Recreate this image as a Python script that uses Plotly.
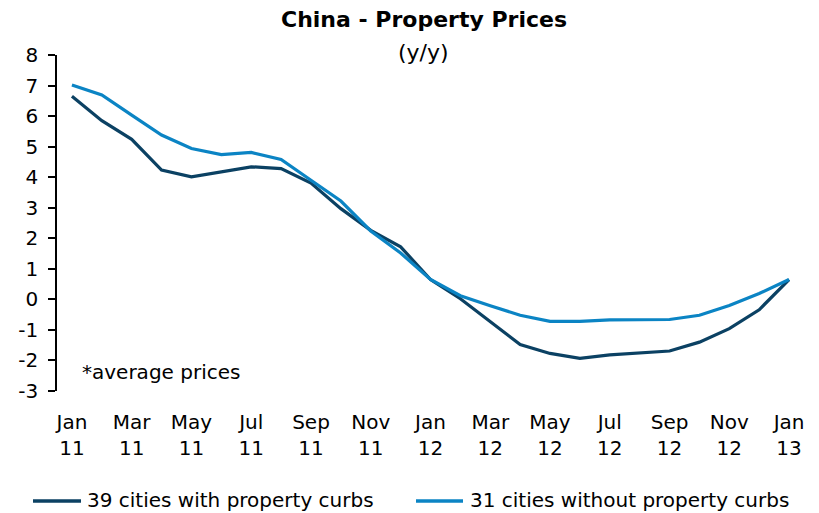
import plotly.graph_objects as go

# ---------------- data ----------------
months = ["Jan 11", "Feb 11", "Mar 11", "Apr 11", "May 11", "Jun 11", "Jul 11",
          "Aug 11", "Sep 11", "Oct 11", "Nov 11", "Dec 11", "Jan 12", "Feb 12",
          "Mar 12", "Apr 12", "May 12", "Jun 12", "Jul 12", "Aug 12", "Sep 12",
          "Oct 12", "Nov 12", "Dec 12", "Jan 13"]
with_curbs = [6.65, 5.85, 5.24, 4.23, 4.01, 4.17, 4.34, 4.28, 3.81, 2.97, 2.26, 1.72,
              0.65, 0.02, -0.72, -1.48, -1.77, -1.93, -1.82, -1.76, -1.69, -1.40,
              -0.96, -0.34, 0.65]
without_curbs = [7.02, 6.69, 6.03, 5.38, 4.94, 4.74, 4.81, 4.58, 3.90, 3.22, 2.24, 1.52,
                 0.65, 0.12, -0.21, -0.52, -0.72, -0.72, -0.67, -0.67, -0.66, -0.52,
                 -0.20, 0.19, 0.65]
tick_labels = ["Jan<br>11", "Mar<br>11", "May<br>11", "Jul<br>11", "Sep<br>11",
               "Nov<br>11", "Jan<br>12", "Mar<br>12", "May<br>12", "Jul<br>12",
               "Sep<br>12", "Nov<br>12", "Jan<br>13"]
y_ticks = [-3, -2, -1, 0, 1, 2, 3, 4, 5, 6, 7, 8]
y_tick_text = ["-3", "-2", "-1", "0", "1", "2", "3", "4", "5", "6", "7", "8"]
series_names = ["39 cities with property curbs", "31 cities without property curbs"]

# ---------------- styling ----------------
DARK = "#0B4163"
LIGHT = "#0B84C4"
FONT = "DejaVu Sans"
W, H = 819, 513
L, R, T, B = 57, 15, 55, 122
PW, PH = W - L - R, H - T - B

def px_x(px):
    return (px - L) / PW

def px_y(py):
    return (H - B - py) / PH

pos = list(range(len(months)))
ymin, ymax = y_ticks[0], y_ticks[-1]

fig = go.Figure()
fig.add_trace(go.Scatter(x=pos, y=with_curbs, mode="lines", name=series_names[0],
                         line=dict(color=DARK, width=3.2), showlegend=False))
fig.add_trace(go.Scatter(x=pos, y=without_curbs, mode="lines", name=series_names[1],
                         line=dict(color=LIGHT, width=3.2), showlegend=False))

xr = [-0.5, len(months) - 0.5]
label_pos = pos[::2]
boundary_pos = [p - 0.5 for p in pos[::2]]

fig.update_layout(
    width=W, height=H,
    margin=dict(l=L, r=R, t=T, b=B),
    paper_bgcolor="white", plot_bgcolor="white",
    font=dict(family=FONT, size=20, color="black"),
    xaxis=dict(range=xr, tickvals=label_pos, ticktext=tick_labels,
               showline=False, showgrid=False, zeroline=False, ticks="",
               ticklabelstandoff=17, tickfont=dict(size=20)),
    xaxis2=dict(range=xr, overlaying="x", anchor="free",
                position=(0 - ymin) / (ymax - ymin),
                tickvals=boundary_pos, ticks="outside", ticklen=6, tickwidth=1.5,
                tickcolor="black", showline=True, linecolor="black", linewidth=1.5,
                showticklabels=False, showgrid=False, zeroline=False),
    yaxis=dict(range=[ymin, ymax], tickvals=y_ticks, ticktext=y_tick_text,
               ticks="outside", ticklen=7,
               tickwidth=1.5, tickcolor="black", showline=True, linecolor="black",
               linewidth=1.5, showgrid=False, zeroline=False,
               ticklabelstandoff=6, tickfont=dict(size=20)),
    showlegend=False,
)

annotations = [
    dict(text="<b>China - Property Prices</b>", x=px_x(423.5), y=px_y(20),
         xref="paper", yref="paper", xanchor="center", yanchor="middle",
         showarrow=False, font=dict(size=22)),
    dict(text="(y/y)", x=px_x(423.5), y=px_y(52), xref="paper", yref="paper",
         xanchor="center", yanchor="middle", showarrow=False, font=dict(size=22)),
    dict(text="*average prices", x=px_x(80), y=px_y(372), xref="paper", yref="paper",
         xanchor="left", yanchor="middle", showarrow=False, font=dict(size=20)),
    dict(text=series_names[0], x=px_x(85), y=px_y(500), xref="paper", yref="paper",
         xanchor="left", yanchor="middle", showarrow=False, font=dict(size=20)),
    dict(text=series_names[1], x=px_x(468), y=px_y(500), xref="paper", yref="paper",
         xanchor="left", yanchor="middle", showarrow=False, font=dict(size=20)),
]
fig.update_layout(annotations=annotations)

shapes = [
    dict(type="line", xref="paper", yref="paper", x0=px_x(33), x1=px_x(81),
         y0=px_y(501), y1=px_y(501), line=dict(color=DARK, width=3.5)),
    dict(type="line", xref="paper", yref="paper", x0=px_x(416), x1=px_x(463),
         y0=px_y(501), y1=px_y(501), line=dict(color=LIGHT, width=3.5)),
]
fig.update_layout(shapes=shapes)

fig.write_html("out.html", config={"displayModeBar": False},
               post_script="document.body.style.margin='0';document.body.style.padding='0';")
